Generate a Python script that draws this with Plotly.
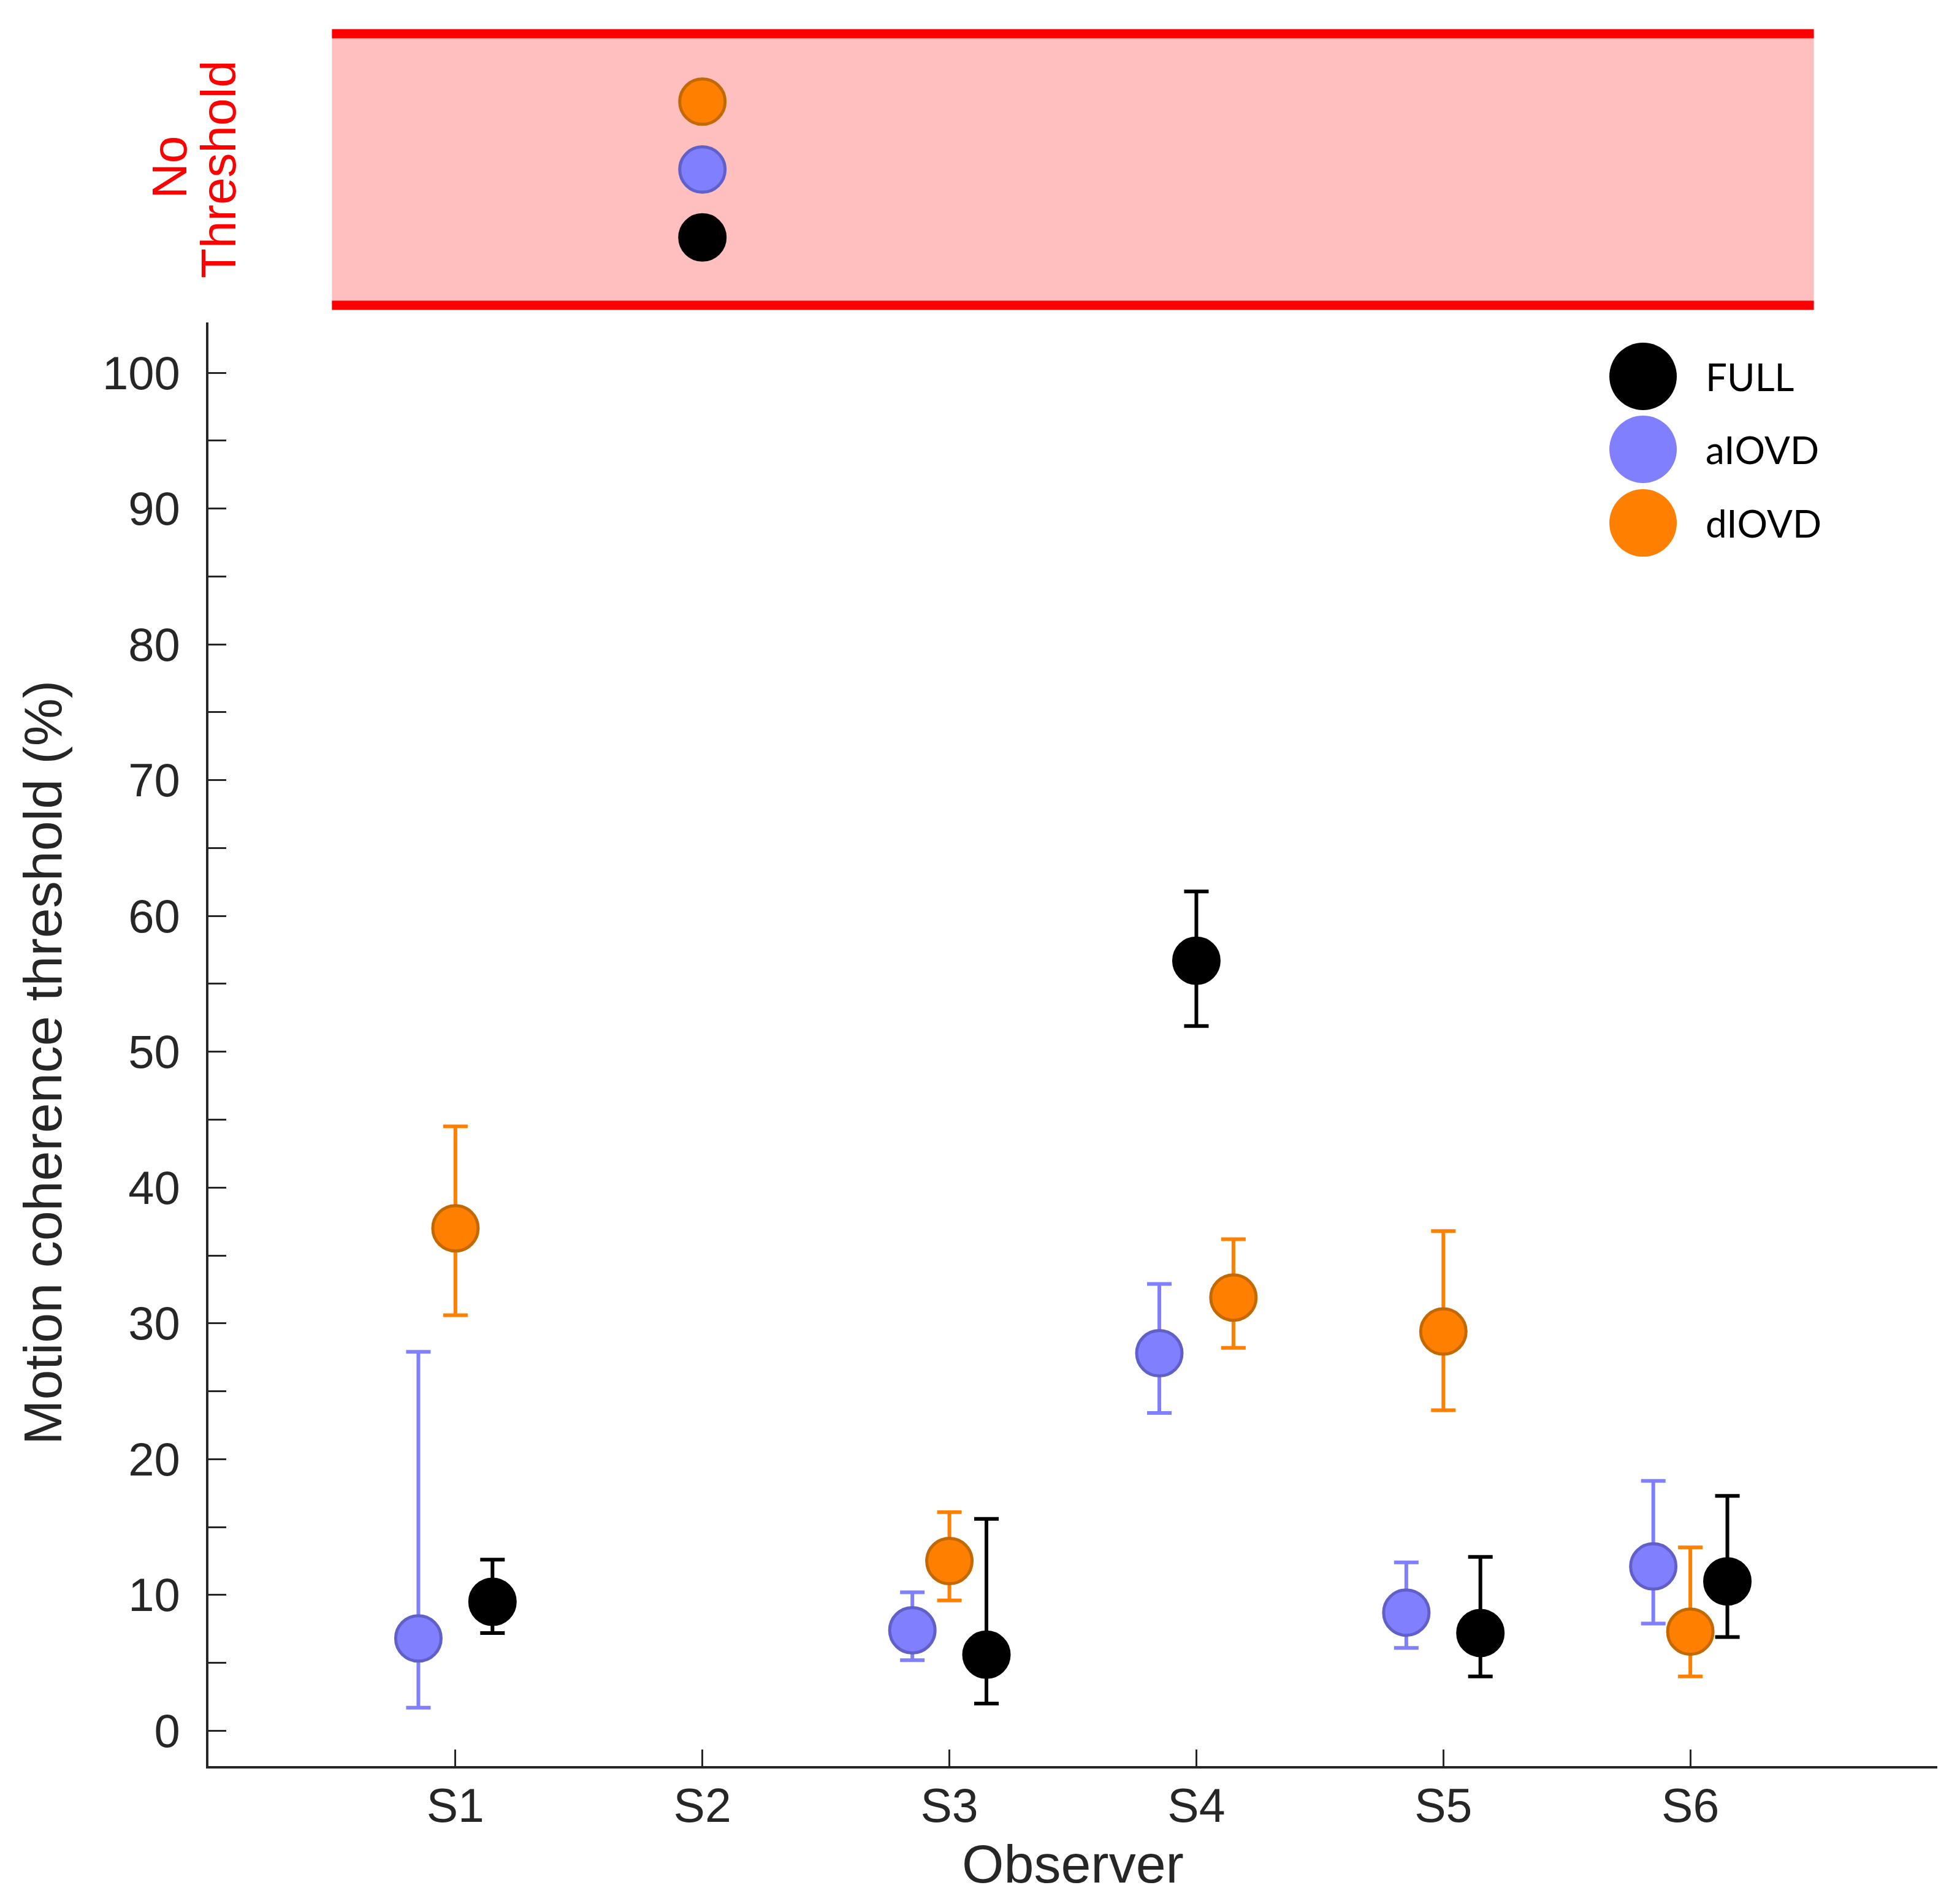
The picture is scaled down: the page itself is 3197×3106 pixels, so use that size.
import plotly.graph_objects as go

# Observers and conditions
subjects = ["S1", "S2", "S3", "S4", "S5", "S6"]
conditions = ["FULL", "aIOVD", "dIOVD"]

# Motion coherence thresholds (%) with upper / lower bounds (None = no threshold)
full_val = [9.5, None, 5.6, 56.7, 7.2, 11.0]
full_hi = [12.6, None, 15.6, 61.8, 12.8, 17.3]
full_lo = [7.2, None, 2.0, 51.9, 4.0, 6.9]

aiovd_val = [6.8, None, 7.4, 27.8, 8.7, 12.1]
aiovd_hi = [27.9, None, 10.2, 32.9, 12.4, 18.4]
aiovd_lo = [1.7, None, 5.2, 23.4, 6.1, 7.9]

diovd_val = [37.0, None, 12.5, 31.9, 29.4, 7.3]
diovd_hi = [44.5, None, 16.1, 36.2, 36.8, 13.5]
diovd_lo = [30.6, None, 9.6, 28.2, 23.6, 4.0]

# horizontal dodge of each condition around the observer position
full_dodge = [0.15, 0, 0.15, 0, 0.15, 0.15]
aiovd_dodge = [-0.15, 0, -0.15, -0.15, -0.15, -0.15]
diovd_dodge = [0, 0, 0, 0.15, 0, 0]

y_tickvals = list(range(0, 101, 5))
y_ticktext = [str(v) if v % 10 == 0 else "" for v in y_tickvals]

series = {
    "FULL": (full_val, full_hi, full_lo, full_dodge, "#000000", "#000000", "#000000"),
    "aIOVD": (aiovd_val, aiovd_hi, aiovd_lo, aiovd_dodge, "#8080FF", "#6060C8", "#8080FF"),
    "dIOVD": (diovd_val, diovd_hi, diovd_lo, diovd_dodge, "#FF8000", "#C46800", "#FF8000"),
}

TXT = "#262626"
FONT = "Liberation Sans"
BAND_DOMAIN = [0.8432, 1.0]

fig = go.Figure()

# pink "No Threshold" band
fig.add_shape(type="rect", xref="x", yref="y2", x0=0.5, x1=6.5, y0=0, y1=4,
              fillcolor="#FFBFBF", line=dict(width=0), layer="below")
for yy in BAND_DOMAIN:
    fig.add_shape(type="line", xref="x", yref="paper", x0=0.5, x1=6.5, y0=yy, y1=yy,
                  line=dict(color="#FF0000", width=15), layer="above")

for cond in ["aIOVD", "dIOVD", "FULL"]:
    val, hi, lo, dodge, fill, edge, ecol = series[cond]
    xs, ys, up, down = [], [], [], []
    nx, ny = [], []
    for i, s in enumerate(subjects):
        if val[i] is None:
            nx.append(i + 1 + dodge[i])
            ny.append(conditions.index(cond) + 1)
            continue
        xs.append(i + 1 + dodge[i])
        ys.append(val[i])
        up.append(hi[i] - val[i])
        down.append(val[i] - lo[i])
    fig.add_trace(go.Scatter(
        x=xs, y=ys, mode="markers", name=cond, showlegend=False,
        marker=dict(size=74, color=fill, line=dict(color=edge, width=5)),
        error_y=dict(type="data", symmetric=False, array=up, arrayminus=down,
                     color=ecol, thickness=6, width=20),
        xaxis="x", yaxis="y",
    ))
    fig.add_trace(go.Scatter(
        x=nx, y=ny, mode="markers", name=cond, showlegend=False,
        marker=dict(size=74, color=fill, line=dict(color=edge, width=5)),
        xaxis="x", yaxis="y2",
    ))

# legend drawn by hand (plotly caps legend marker size)
leg_y = [0.8022, 0.7601, 0.7176]
for cond, ly in zip(conditions, leg_y):
    fill = series[cond][4]
    fig.add_shape(type="circle", xref="paper", yref="paper",
                  xsizemode="pixel", ysizemode="pixel",
                  xanchor=0.8298, yanchor=ly, x0=-55, x1=55, y0=-55, y1=55,
                  fillcolor=fill, line=dict(width=0))
    fig.add_annotation(x=0.8652, y=ly, xref="paper", yref="paper", text=cond,
                       showarrow=False, xanchor="left", yanchor="middle",
                       font=dict(family="Lato", size=62, color="#000000"))

# titles
fig.add_annotation(x=0.5, y=-0.0563, xref="paper", yref="paper", text="Observer",
                   showarrow=False, xanchor="center", yanchor="middle",
                   font=dict(family=FONT, size=88, color=TXT))
fig.add_annotation(x=-0.096, y=0.406, xref="paper", yref="paper",
                   text="Motion coherence threshold (%)", textangle=-90,
                   showarrow=False, xanchor="center", yanchor="middle",
                   font=dict(family=FONT, size=88, color=TXT))
fig.add_annotation(x=-0.0223, y=0.9229, xref="paper", yref="paper", text="No",
                   textangle=-90, showarrow=False, xanchor="center", yanchor="middle",
                   font=dict(family=FONT, size=80, color="#FF0000"))
fig.add_annotation(x=0.006, y=0.9218, xref="paper", yref="paper", text="Threshold",
                   textangle=-90, showarrow=False, xanchor="center", yanchor="middle",
                   font=dict(family=FONT, size=80, color="#FF0000"))

fig.update_layout(
    width=3189, height=3098, autosize=False,
    margin=dict(l=332, r=37, t=47, b=225),
    paper_bgcolor="white", plot_bgcolor="rgba(0,0,0,0)",
    showlegend=False,
    font=dict(family=FONT, color=TXT),
    xaxis=dict(
        range=[0, 7], tickvals=list(range(1, 7)), ticktext=subjects,
        showline=True, linecolor=TXT, linewidth=4,
        ticks="inside", ticklen=27, tickwidth=3, tickcolor=TXT,
        tickfont=dict(family=FONT, size=77, color=TXT), ticklabelstandoff=-5,
        showgrid=False, zeroline=False, anchor="y",
    ),
    yaxis=dict(
        domain=[0, 0.8333], range=[-2.6, 103.7],
        tickvals=y_tickvals, ticktext=y_ticktext,
        showline=True, linecolor=TXT, linewidth=4,
        ticks="inside", ticklen=29, tickwidth=3, tickcolor=TXT,
        tickfont=dict(family=FONT, size=76, color=TXT), ticklabelstandoff=27,
        showgrid=False, zeroline=False, anchor="x",
    ),
    yaxis2=dict(
        domain=BAND_DOMAIN, range=[0, 4], visible=False, anchor="x",
        showgrid=False, zeroline=False,
    ),
)

fig.write_html("out.html")
